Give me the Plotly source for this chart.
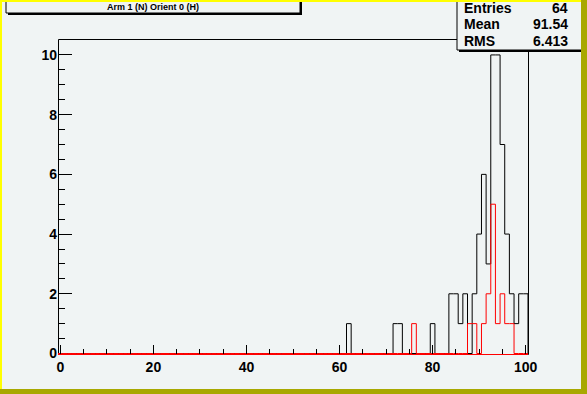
import numpy as np
import plotly.graph_objects as go

# ---- data ----
n_bins = 101
x_low, x_high = -0.5, 100.5

black_bins = [62, 72, 73, 80, 84, 85, 86, 87, 89, 90, 91, 92, 93, 94, 95, 96, 97, 98, 99, 100]
black_counts = [1, 1, 1, 1, 2, 2, 1, 2, 2, 4, 6, 3, 10, 10, 7, 4, 2, 1, 2, 2]

red_bins = [76, 88, 89, 91, 92, 93, 94, 95, 96, 97]
red_counts = [1, 1, 1, 1, 2, 5, 1, 2, 1, 1]

title_text = "Arm 1 (N) Orient 0 (H)"
stat_names = ["Entries", "Mean", "RMS"]
stat_values = ["64", "91.54", "6.413"]

x_tickvals = [0, 20, 40, 60, 80, 100]
y_tickvals = [0, 2, 4, 6, 8, 10]

# ---- build step outlines ----
edges = np.linspace(x_low, x_high, n_bins + 1)


def full_counts(bins, counts):
    arr = np.zeros(n_bins)
    for b, c in zip(bins, counts):
        arr[int(round(b - x_low - 0.5))] = c
    return arr


def step_xy(arr):
    return list(edges), list(arr) + [0]


bk = full_counts(black_bins, black_counts)
rd = full_counts(red_bins, red_counts)

W, H = 587, 394
L, R, T, B = 58, 59, 40, 40
pw, ph = W - L - R, H - T - B

y_top = 10.5
y_bottom = -0.5 * y_top / (ph - 0.5)   # zero line sits on the last pixel row inside the frame


def px(x):
    return (x - L) / pw


def py(y):
    return (H - B - y) / ph


bg = "#f0f4f4"
font_family = "Liberation Sans, Arial, sans-serif"

fig = go.Figure()
bx, by = step_xy(bk)
fig.add_trace(go.Scatter(x=bx, y=by, mode="lines", line=dict(color="black", width=1, shape="hv"),
                         hoverinfo="skip", showlegend=False))
rx, ry = step_xy(rd)
fig.add_trace(go.Scatter(x=rx, y=ry, mode="lines", line=dict(color="red", width=1, shape="hv"),
                         hoverinfo="skip", showlegend=False))

shapes = []

# frame (below the histograms)
shapes.append(dict(type="rect", xref="paper", yref="paper",
                   x0=px(58.5), x1=px(528.5), y0=py(354.5), y1=py(39.5),
                   fillcolor="rgba(0,0,0,0)", line=dict(color="black", width=1), layer="below"))


def rect(x0, y0, x1, y1, fill, line_color=None, lw=0):
    shapes.append(dict(type="rect", xref="paper", yref="paper",
                       x0=px(x0), x1=px(x1), y0=py(y1), y1=py(y0),
                       fillcolor=fill,
                       line=dict(color=line_color or fill, width=lw),
                       layer="above"))


# title pave with shadow
rect(8, -5, 302, 15, "black")
rect(6, -5, 300, 13, bg, "black", 1)
# stats pave with shadow
rect(459, -5, 590, 52, "black")
rect(457, -5, 588, 50, bg, "black", 1)
# canvas bevel borders
rect(0, 0, W, 2, "#ffff00")
rect(0, 0, 2, H, "#ffff00")
rect(W - 6, 0, W + 1, H + 1, "#a8a800")
rect(0, H - 5, W + 1, H + 1, "#a8a800")

annotations = [dict(text="<b>%s</b>" % title_text, xref="paper", yref="paper",
                    x=px(153), y=py(7.5), xanchor="center", yanchor="middle",
                    showarrow=False, font=dict(family=font_family, size=9, color="black"))]
rows_y = [8, 24.3, 40.5]
for name, val, yy in zip(stat_names, stat_values, rows_y):
    annotations.append(dict(text="<b>%s</b>" % name, xref="paper", yref="paper",
                            x=px(461.5), y=py(yy), xanchor="left", yanchor="middle",
                            showarrow=False, font=dict(family=font_family, size=14, color="black")))
    annotations.append(dict(text="<b>%s</b>" % val, xref="paper", yref="paper",
                            x=px(569.5), y=py(yy), xanchor="right", yanchor="middle",
                            showarrow=False, font=dict(family=font_family, size=14, color="black")))

axis_font = dict(family=font_family, size=14, color="black", weight="bold")

fig.update_layout(
    width=W, height=H,
    margin=dict(l=L, r=R, t=T, b=B, pad=0),
    paper_bgcolor=bg, plot_bgcolor=bg,
    showlegend=False,
    shapes=shapes,
    annotations=annotations,
    xaxis=dict(range=[x_low, x_high], tickvals=x_tickvals, ticks="inside", ticklen=9,
               tickcolor="black", tickwidth=1, showgrid=False, zeroline=False,
               showline=True, linecolor="red", linewidth=1, mirror=False,
               tickfont=axis_font, layer="above traces",
               minor=dict(dtick=5, tick0=0, ticks="inside", ticklen=5, tickcolor="black", showgrid=False)),
    yaxis=dict(range=[y_bottom, y_top], tickvals=y_tickvals, ticks="inside", ticklen=14,
               tickcolor="black", tickwidth=1, showgrid=False, zeroline=False,
               showline=False, tickfont=axis_font, layer="above traces",
               minor=dict(dtick=0.5, tick0=0, ticks="inside", ticklen=7, tickcolor="black", showgrid=False)),
)

fig.write_html("out.html")
